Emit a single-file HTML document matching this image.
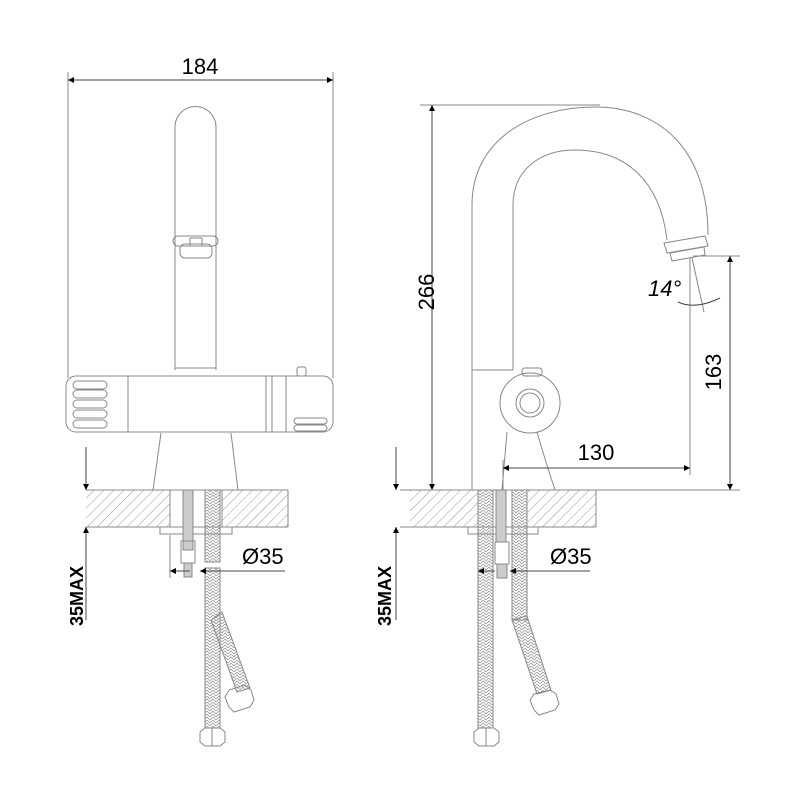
<!DOCTYPE html>
<html><head><style>
html,body{margin:0;padding:0;background:#fff;}
svg{display:block;}
text{font-family:"Liberation Sans Narrow","Liberation Sans",sans-serif;fill:#000;}
</style></head><body>
<svg width="800" height="800" viewBox="0 0 800 800" xmlns="http://www.w3.org/2000/svg">
<defs>
<pattern id="h" width="7" height="7" patternUnits="userSpaceOnUse" patternTransform="rotate(45)">
<line x1="0" y1="0" x2="0" y2="7" stroke="#999" stroke-width="1"/>
</pattern>
<pattern id="br" width="6" height="6" patternUnits="userSpaceOnUse">
<path d="M0 3 L3 0 L6 3 M0 6 L3 3 L6 6" stroke="#999" stroke-width="0.8" fill="none"/>
</pattern>
<marker id="a" viewBox="0 0 10 10" refX="10" refY="5" markerWidth="11" markerHeight="6" orient="auto-start-reverse" markerUnits="userSpaceOnUse">
<path d="M0 0 L10 5 L0 10 z" fill="#000"/>
</marker>
</defs>
<g fill="none" stroke="#888" stroke-width="1">
<!-- LEFT VIEW -->
<line x1="68" y1="72" x2="68" y2="378"/>
<line x1="333" y1="72" x2="333" y2="378"/>
<line x1="68" y1="80" x2="333" y2="80" stroke="#444" marker-start="url(#a)" marker-end="url(#a)"/>
<path d="M175 370 V127 A20.5 20.5 0 0 1 216 127 V370"/>
<line x1="175" y1="368" x2="216" y2="368"/>
<rect x="173" y="236" width="45" height="10" rx="5"/>
<rect x="180" y="244" width="32" height="14" rx="5"/>
<rect x="190" y="238" width="12" height="8"/>
<rect x="66" y="376" width="267" height="56" rx="10"/>
<line x1="128" y1="376" x2="128" y2="432"/>
<line x1="266" y1="376" x2="266" y2="432"/>
<line x1="272" y1="376" x2="272" y2="432"/>
<line x1="286" y1="376" x2="286" y2="432"/>
<rect x="297" y="367" width="9" height="9" rx="2"/>
<rect x="73" y="381" width="34" height="8" rx="4"/>
<rect x="73" y="390" width="34" height="8" rx="4"/>
<rect x="73" y="400" width="34" height="8" rx="4"/>
<rect x="73" y="410" width="34" height="8" rx="4"/>
<rect x="73" y="420" width="34" height="8" rx="4"/>
<rect x="294" y="418" width="33" height="6" rx="3"/>
<rect x="294" y="425" width="33" height="6" rx="3"/>
<path d="M161 433 L153 490 M231 433 L238 490"/>
<rect x="86" y="490" width="84" height="37" fill="url(#h)" stroke="none"/>
<rect x="222" y="490" width="66" height="37" fill="url(#h)" stroke="none"/>
<line x1="86" y1="490" x2="288" y2="490"/>
<line x1="86" y1="527" x2="288" y2="527"/>
<line x1="288" y1="490" x2="288" y2="527"/>
<line x1="170" y1="490" x2="170" y2="527"/>
<line x1="222" y1="490" x2="222" y2="527"/>
<rect x="160" y="527" width="72" height="7"/>
<rect x="183" y="490" width="10" height="60" fill="#ccc"/>
<rect x="181" y="541" width="14" height="22"/>
<rect x="184" y="563" width="8" height="14" fill="#ccc"/>
<rect x="205" y="490" width="15" height="72" fill="url(#br)"/>
<path d="M205 568 V728 H220 V568 Z" fill="url(#br)"/>
<path d="M211 620 L237 692 L250 688 L222 612 Z" fill="url(#br)"/>
<path d="M200 732 L205 728 H220 L225 732 V742 L220 746 H205 L200 742 Z"/>
<line x1="212" y1="728" x2="212" y2="746"/>
<path d="M225 697 L229 690 L245 685 L251 690 L254 700 L250 707 L234 712 L229 707 Z"/>
<line x1="170" y1="535" x2="170" y2="578"/>
<line x1="170" y1="571" x2="190" y2="571" stroke="#444" marker-start="url(#a)"/>
<line x1="200" y1="571" x2="285" y2="571" stroke="#444" marker-start="url(#a)"/>
<line x1="86" y1="447" x2="86" y2="490" stroke="#444" marker-end="url(#a)"/>
<line x1="86" y1="620" x2="86" y2="527" stroke="#444" marker-end="url(#a)"/>

<!-- RIGHT VIEW -->
<line x1="420" y1="105" x2="600" y2="105"/>
<line x1="432" y1="105" x2="432" y2="490" stroke="#444" marker-start="url(#a)" marker-end="url(#a)"/>
<path d="M472 490 V205 C472 140 530 107 595 107 C660 107 708 150 708 235"/>
<path d="M513 370 V205 C513 170 540 150 575 150 C625 150 660 180 667 240"/>
<path d="M664 243 L705 236 L708 246 L667 253 Z"/>
<path d="M670 253 L704 247 L705 255 L672 261 Z"/>
<line x1="472" y1="370" x2="513" y2="370"/>
<circle cx="530" cy="403" r="30"/>
<circle cx="530" cy="403" r="14"/>
<circle cx="530" cy="403" r="10"/>
<rect x="522" y="368" width="20" height="8" rx="3"/>
<path d="M507 432 L502 490 M537 432 Q545 460 555 490"/>
<rect x="410" y="490" width="68" height="37" fill="url(#h)" stroke="none"/>
<rect x="528" y="490" width="68" height="37" fill="url(#h)" stroke="none"/>
<line x1="400" y1="490" x2="740" y2="490"/>
<line x1="400" y1="527" x2="596" y2="527"/>
<line x1="596" y1="490" x2="596" y2="527"/>
<rect x="468" y="527" width="70" height="7"/>
<rect x="478" y="490" width="15" height="238" fill="url(#br)"/>
<rect x="512" y="490" width="15" height="130" fill="url(#br)"/>
<path d="M512 620 L537 694 L551 690 L527 616 Z" fill="url(#br)"/>
<rect x="496" y="490" width="10" height="52" fill="#ccc"/>
<rect x="495" y="542" width="14" height="22"/>
<rect x="497" y="564" width="10" height="14" fill="#ccc"/>
<path d="M474 732 L479 728 H494 L499 732 V742 L494 746 H479 L474 742 Z"/>
<line x1="486" y1="728" x2="486" y2="746"/>
<path d="M530 700 L534 694 L550 690 L556 694 L559 704 L555 710 L539 715 L534 710 Z"/>
<line x1="478" y1="527" x2="478" y2="580"/>
<line x1="478" y1="571" x2="495" y2="571" stroke="#444" marker-start="url(#a)"/>
<line x1="510" y1="571" x2="590" y2="571" stroke="#444" marker-start="url(#a)"/>
<line x1="396" y1="447" x2="396" y2="490" stroke="#444" marker-end="url(#a)"/>
<line x1="396" y1="620" x2="396" y2="527" stroke="#444" marker-end="url(#a)"/>
<line x1="503" y1="460" x2="503" y2="490"/>
<line x1="690" y1="258" x2="690" y2="475"/>
<line x1="503" y1="468" x2="690" y2="468" stroke="#444" marker-start="url(#a)" marker-end="url(#a)"/>
<line x1="693" y1="256" x2="740" y2="256"/>
<line x1="730" y1="256" x2="730" y2="490" stroke="#444" marker-start="url(#a)" marker-end="url(#a)"/>
<line x1="692" y1="258" x2="704" y2="312"/>
<path d="M678 302 Q695 310 720 298" stroke="#444"/>
</g>
<text x="200" y="74" font-size="22" text-anchor="middle">184</text>
<text x="242" y="564" font-size="22">Ø35</text>
<text x="550" y="564" font-size="22">Ø35</text>
<text x="596" y="460" font-size="22" text-anchor="middle">130</text>
<text transform="translate(434,292) rotate(-90)" font-size="22" text-anchor="middle">266</text>
<text transform="translate(721,372) rotate(-90)" font-size="22" text-anchor="middle">163</text>
<text transform="translate(83,596) rotate(-90)" font-size="18" font-weight="bold" text-anchor="middle">35MAX</text>
<text transform="translate(391,596) rotate(-90)" font-size="18" font-weight="bold" text-anchor="middle">35MAX</text>
<text x="648" y="296" font-size="22" font-style="italic">14°</text>
</svg>
</body></html>
